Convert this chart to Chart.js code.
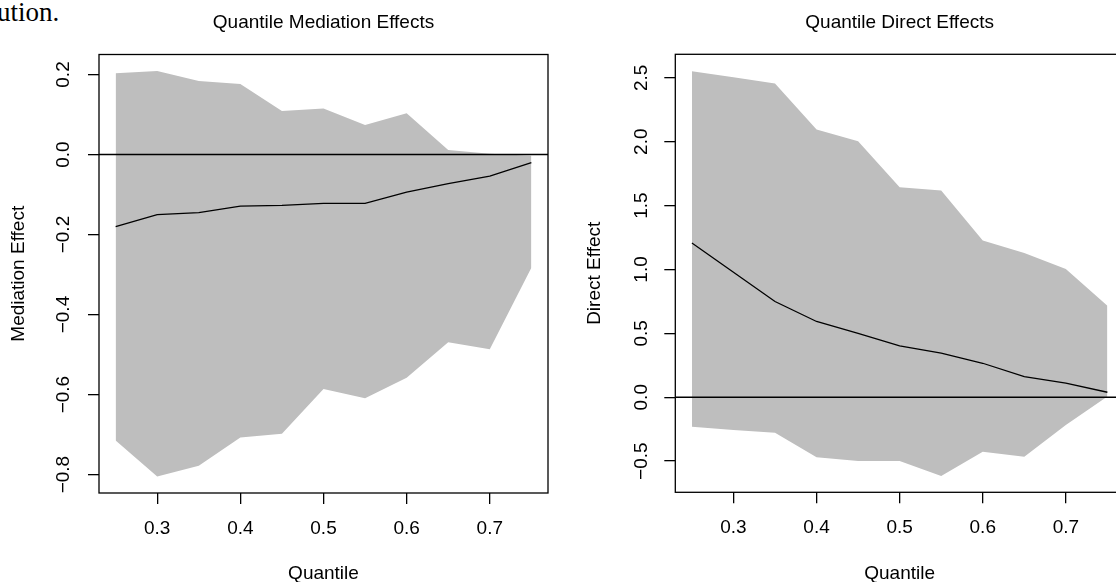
<!DOCTYPE html>
<html>
<head>
<meta charset="utf-8">
<script src="https://cdn.jsdelivr.net/npm/chart.js@4"></script>
<style>
  html, body { margin: 0; padding: 0; width: 1116px; height: 582px; overflow: hidden; background: #fff; }
  #frag { position: absolute; left: -3px; top: -1px; font-family: "Liberation Serif", "Times New Roman", serif; font-size: 27px; line-height: 27px; color: #000; white-space: nowrap; }
  canvas { position: absolute; top: 0; }
</style>
</head>
<body>
<div id="frag">ution.</div>
<canvas id="c1" width="558" height="600" style="left:0px"></canvas>
<canvas id="c2" width="600" height="600" style="left:558px"></canvas>
<script>
// ---------- data ----------
const quantiles = [0.25, 0.30, 0.35, 0.40, 0.45, 0.50, 0.55, 0.60, 0.65, 0.70, 0.75];

const medEffect = [-0.180, -0.150, -0.145, -0.129, -0.127, -0.122, -0.122, -0.094, -0.073, -0.054, -0.020];
const medUpper  = [0.203, 0.209, 0.184, 0.176, 0.109, 0.115, 0.074, 0.103, 0.011, 0.002, -0.003];
const medLower  = [-0.715, -0.805, -0.778, -0.707, -0.698, -0.586, -0.609, -0.558, -0.469, -0.487, -0.283];

const dirEffect = [1.207, 0.978, 0.749, 0.593, 0.500, 0.402, 0.345, 0.266, 0.161, 0.110, 0.039];
const dirUpper  = [2.552, 2.505, 2.455, 2.095, 2.003, 1.643, 1.619, 1.227, 1.128, 1.003, 0.716];
const dirLower  = [-0.230, -0.256, -0.277, -0.470, -0.499, -0.499, -0.617, -0.426, -0.465, -0.217, 0.005];

const xRange = [0.23, 0.77];
const medRange = [-0.846, 0.250];
const dirRange = [-0.744, 2.684];

const xTicks = [0.3, 0.4, 0.5, 0.6, 0.7];
const xTickLabels = ["0.3", "0.4", "0.5", "0.6", "0.7"];
const medTicks = [-0.8, -0.6, -0.4, -0.2, 0.0, 0.2];
const medTickLabels = ["\u22120.8", "\u22120.6", "\u22120.4", "\u22120.2", "0.0", "0.2"];
const dirTicks = [-0.5, 0.0, 0.5, 1.0, 1.5, 2.0, 2.5];
const dirTickLabels = ["\u22120.5", "0.0", "0.5", "1.0", "1.5", "2.0", "2.5"];

// ---------- styling ----------
const FAMILY = '"Liberation Sans", Arial, Helvetica, sans-serif';
const FONT = { family: FAMILY, size: 19, weight: 'normal', lineHeight: 1.2 };
const LW = 1.3;
const BAND = '#BEBEBE';

const boxPlugin = {
  id: 'plotBox',
  afterDatasetsDraw(chart) {
    const { ctx, chartArea: a } = chart;
    ctx.save();
    ctx.strokeStyle = '#000';
    ctx.lineWidth = LW;
    ctx.strokeRect(a.left, a.top, a.right - a.left, a.bottom - a.top);
    ctx.restore();
  }
};

function pts(xs, ys) { return xs.map((x, i) => ({ x: x, y: ys[i] })); }

function makeChart(id, cfg) {
  const ctx = document.getElementById(id);
  return new Chart(ctx, {
    type: 'line',
    data: {
      datasets: [
        { label: cfg.yTitle, data: pts(quantiles, cfg.effect), borderColor: '#000', borderWidth: LW, pointRadius: 0, fill: false, tension: 0, order: 1 },
        { label: 'zero', data: pts(xRange, [0, 0]), borderColor: '#000', borderWidth: LW, pointRadius: 0, fill: false, order: 0 },
        { label: 'upper', data: pts(quantiles, cfg.upper), borderColor: 'rgba(0,0,0,0)', borderWidth: 0, backgroundColor: BAND, pointRadius: 0, fill: '+1', tension: 0, order: 2 },
        { label: 'lower', data: pts(quantiles, cfg.lower), borderColor: 'rgba(0,0,0,0)', borderWidth: 0, backgroundColor: BAND, pointRadius: 0, fill: false, tension: 0, order: 3 }
      ]
    },
    options: {
      responsive: false,
      maintainAspectRatio: false,
      animation: false,
      events: [],
      layout: { padding: { left: 0, right: cfg.padRight, top: 0, bottom: 0 } },
      plugins: {
        legend: { display: false },
        tooltip: { enabled: false },
        title: {
          display: true, text: cfg.title, fullSize: false, color: '#000',
          font: FONT, padding: { top: 11.1, bottom: cfg.titleBottom }
        }
      },
      scales: {
        x: {
          type: 'linear', position: 'bottom', min: xRange[0], max: xRange[1],
          afterBuildTicks: s => { s.ticks = xTicks.map(v => ({ value: v })); },
          afterFit: s => { s.height = cfg.xAxisHeight; },
          ticks: { callback: (v, i) => xTickLabels[i], font: FONT, color: '#000', padding: cfg.xTickPad, autoSkip: false, minRotation: 0, maxRotation: 0 },
          grid: { display: true, drawOnChartArea: false, drawTicks: true, tickLength: 11, color: '#000', lineWidth: LW },
          border: { display: false },
          title: { display: true, text: 'Quantile', font: FONT, color: '#000', padding: { top: 0, bottom: 15.3 } }
        },
        y: {
          type: 'linear', position: 'left', min: cfg.range[0], max: cfg.range[1],
          afterBuildTicks: s => { s.ticks = cfg.ticks.map(v => ({ value: v })); },
          afterFit: s => { s.width = cfg.yAxisWidth; },
          ticks: { callback: (v, i) => cfg.tickLabels[i], font: FONT, color: '#000', padding: cfg.yTickPad, crossAlign: 'center', minRotation: 90, maxRotation: 90, autoSkip: false },
          grid: { display: true, drawOnChartArea: false, drawTicks: true, tickLength: 11, color: '#000', lineWidth: LW },
          border: { display: false },
          title: { display: true, text: cfg.yTitle, font: FONT, color: '#000', padding: { top: cfg.yTitlePad, bottom: 0 } }
        }
      }
    },
    plugins: [boxPlugin]
  });
}

makeChart('c1', {
  title: 'Quantile Mediation Effects', yTitle: 'Mediation Effect',
  effect: medEffect, upper: medUpper, lower: medLower,
  range: medRange, ticks: medTicks, tickLabels: medTickLabels,
  padRight: 10, yAxisWidth: 99, xAxisHeight: 107, titleBottom: 20.6,
  xTickPad: 12.9, yTickPad: 5.9, yTitlePad: 6.9
});

makeChart('c2', {
  title: 'Quantile Direct Effects', yTitle: 'Direct Effect',
  effect: dirEffect, upper: dirUpper, lower: dirLower,
  range: dirRange, ticks: dirTicks, tickLabels: dirTickLabels,
  padRight: 34, yAxisWidth: 117.3, xAxisHeight: 107.7, titleBottom: 20.4,
  xTickPad: 13.3, yTickPad: 3.6, yTitlePad: 25.6
});
</script>
</body>
</html>
